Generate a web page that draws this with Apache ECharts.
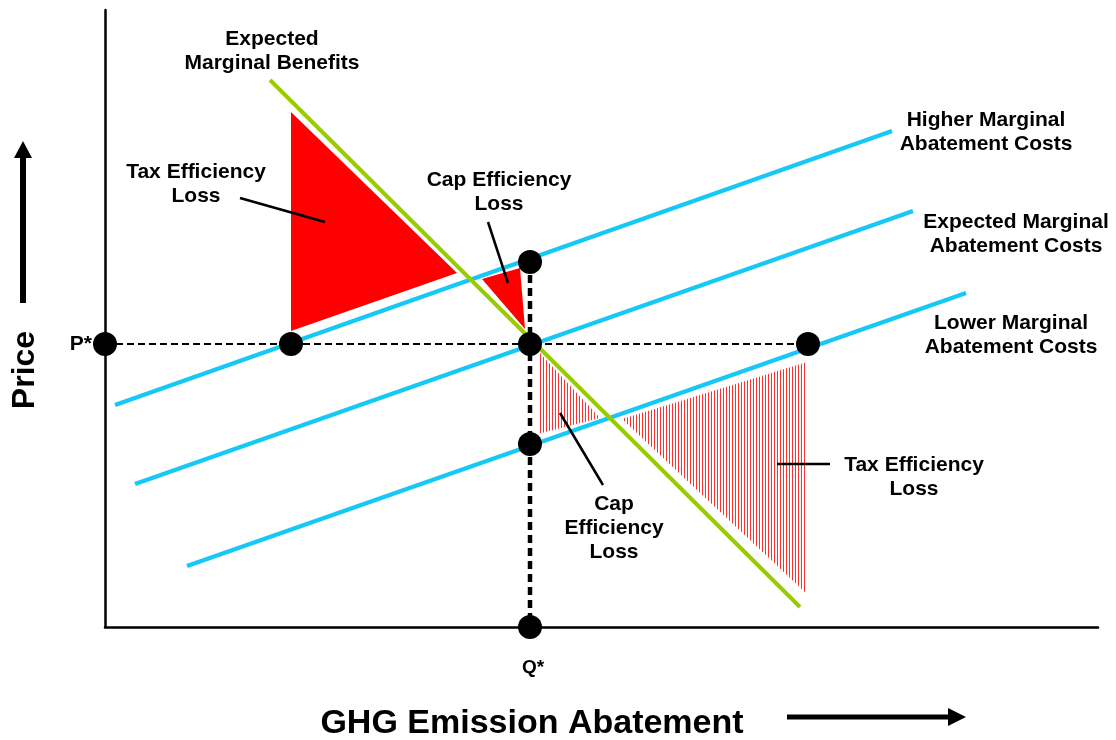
<!DOCTYPE html>
<html><head><meta charset="utf-8">
<script src="https://cdn.jsdelivr.net/npm/echarts@6/dist/echarts.min.js"></script>
<style>html,body{margin:0;padding:0;background:#fff}#c{width:1116px;height:740px}</style>
</head><body><div id="c"></div>
<script>
// Diagram data (x: abatement units, y: price units)
const marginalBenefits = [[165,547],[695,20]];
const higherMAC = [[10,222],[787,496]];
const expectedMAC = [[30,143],[808,416]];
const lowerMAC = [[82,61],[861,334]];
const priceLine = [[0,283],[703,283]];
const quantityLine = [[425,365],[425,0]];
const keyPoints = [[0,283],[186,283],[425,283],[703,283],[425,365],[425,183],[425,0]];
const taxLossSolid = [[186,515],[186,296],[352,354]];
const capLossSolid = [[377,348],[415,359],[420,298]];
const capLossHatched = [[433,276],[433,193],[495,209]];
const taxLossHatched = [[517,208],[702,265],[702,33]];
const leaders = [[[135,429],[220,405]],[[383,405],[403,344]],[[455,214],[498,142]],[[672,163],[725,163]]];

const GREEN = '#99CC00', CYAN = '#16C8F5', RED = '#FF0000';
const FONT = 'Liberation Sans';

const pc = document.createElement('canvas');
pc.width = 3; pc.height = 4;
const pctx = pc.getContext('2d');
pctx.fillStyle = '#FF3030';
pctx.fillRect(0, 0, 1, 4);
const hatch = {image: pc, repeat: 'repeat'};

function polySeries(verts, fill, z) {
  return {
    type: 'custom', clip: false, z: z, silent: true,
    data: [verts[0]],
    renderItem: (params, api) => ({
      type: 'polygon',
      shape: {points: verts.map(p => api.coord(p))},
      style: {fill: fill, stroke: null}
    })
  };
}
function lineSeries(data, color, width, type, z) {
  return {type: 'line', data: data, symbol: 'none', z: z, silent: true,
    lineStyle: {color: color, width: width, type: type || 'solid', cap: 'butt', opacity: 1}};
}
function txt(x, y, text, size, align) {
  return {type: 'text', x: x, y: y, style: {text: text, fontFamily: FONT, fontWeight: 'bold', fontSize: size || 21,
    fill: '#000', align: align || 'center', verticalAlign: 'middle', lineHeight: 24}};
}

const chart = echarts.init(document.getElementById('c'), null, {renderer: 'canvas'});
chart.setOption({
  backgroundColor: '#fff',
  animation: false,
  textStyle: {fontFamily: FONT},
  grid: {left: 105, right: 18, top: 10, bottom: 113},
  xAxis: {type: 'value', min: 0, max: 993, axisLine: {show: true, onZero: false, lineStyle: {color: '#000', width: 2.5}},
    axisTick: {show: false}, axisLabel: {show: false}, splitLine: {show: false}},
  yAxis: {type: 'value', min: 0, max: 617, axisLine: {show: true, onZero: false, lineStyle: {color: '#000', width: 2.5}},
    axisTick: {show: false}, axisLabel: {show: false}, splitLine: {show: false}},
  series: [
    polySeries(taxLossSolid, RED, 1),
    polySeries(capLossSolid, RED, 1),
    polySeries(capLossHatched, hatch, 1),
    polySeries(taxLossHatched, hatch, 1),
    lineSeries(higherMAC, CYAN, 4.5, 'solid', 2),
    lineSeries(expectedMAC, CYAN, 4.5, 'solid', 2),
    lineSeries(lowerMAC, CYAN, 4.5, 'solid', 2),
    lineSeries(marginalBenefits, GREEN, 4, 'solid', 3),
    lineSeries(priceLine, '#000', 2, [7, 4], 4),
    lineSeries(quantityLine, '#000', 4.5, [8, 5], 4),
    ...leaders.map(l => lineSeries(l, '#000', 2.5, 'solid', 4)),
    {type: 'scatter', data: keyPoints, symbol: 'circle', symbolSize: 24, z: 5, silent: true,
      itemStyle: {color: '#000', opacity: 1}}
  ],
  graphic: [
    txt(272, 51, 'Expected\nMarginal Benefits'),
    txt(196, 184, 'Tax Efficiency\nLoss'),
    txt(499, 192, 'Cap Efficiency\nLoss'),
    txt(986, 132, 'Higher Marginal\nAbatement Costs'),
    txt(1016, 234, 'Expected Marginal\nAbatement Costs'),
    txt(1011, 335, 'Lower Marginal\nAbatement Costs'),
    txt(614, 528, 'Cap\nEfficiency\nLoss'),
    txt(914, 477, 'Tax Efficiency\nLoss'),
    txt(92, 344, 'P*', 21, 'right'),
    txt(533, 668, 'Q*', 19),
    {type: 'text', x: 25, y: 370, rotation: Math.PI / 2, style: {text: 'Price', fontFamily: FONT, fontWeight: 'bold', fontSize: 32, fill: '#000', align: 'center', verticalAlign: 'middle'}},
    txt(532, 724, 'GHG Emission Abatement', 34),
    {type: 'line', shape: {x1: 23, y1: 303, x2: 23, y2: 156}, style: {stroke: '#000', lineWidth: 6}},
    {type: 'polygon', shape: {points: [[14, 158], [32, 158], [23, 141]]}, style: {fill: '#000'}},
    {type: 'line', shape: {x1: 787, y1: 717, x2: 950, y2: 717}, style: {stroke: '#000', lineWidth: 5}},
    {type: 'polygon', shape: {points: [[948, 708], [948, 726], [966, 717]]}, style: {fill: '#000'}}
  ]
});
</script></body></html>
